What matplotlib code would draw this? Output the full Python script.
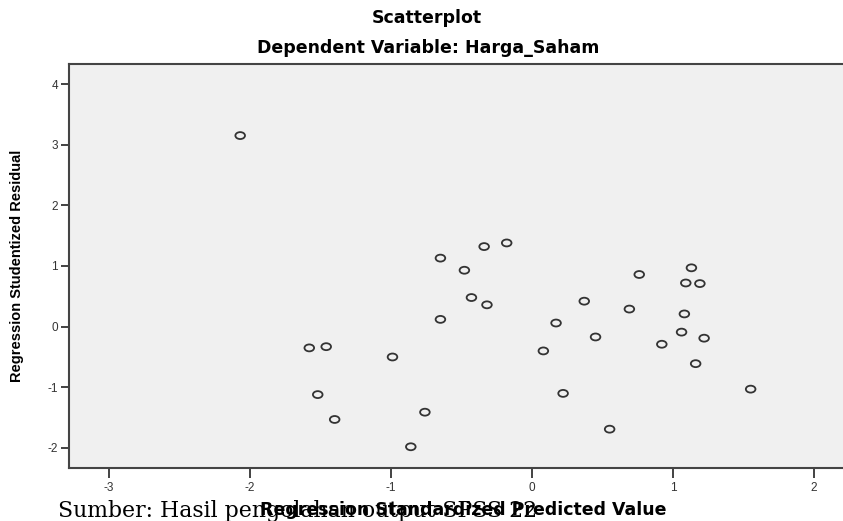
import matplotlib.pyplot as plt
import numpy as np
from matplotlib.path import Path
from matplotlib.markers import MarkerStyle

pred = [-2.07, -0.34, -0.65, -0.48, -0.43, -0.32, -0.65, -1.58, -1.46, -0.99,
        -1.52, -1.40, -0.76, -0.86, -0.18, 0.76, 1.13, 1.09, 1.19, 0.37,
        0.69, 1.08, 0.17, 0.45, 1.06, 1.22, 0.92, 0.08, 1.16, 0.22,
        1.55, 0.55]
resid = [3.15, 1.32, 1.13, 0.93, 0.48, 0.36, 0.12, -0.35, -0.33, -0.50,
         -1.12, -1.53, -1.41, -1.98, 1.38, 0.86, 0.97, 0.72, 0.71, 0.42,
         0.29, 0.21, 0.06, -0.17, -0.09, -0.19, -0.29, -0.40, -0.61, -1.10,
         -1.03, -1.69]
xticks = [-3, -2, -1, 0, 1, 2]
yticks = [-2, -1, 0, 1, 2, 3, 4]

plt.rcParams['font.family'] = ['Liberation Sans', 'DejaVu Sans']
plt.rcParams['axes.unicode_minus'] = False

W, H = 843, 521
fig = plt.figure(figsize=(W / 100, H / 100), dpi=100)
ax = fig.add_axes([69 / W, (H - 468) / H, (855 - 69) / W, (468 - 64) / H])
ax.set_facecolor('#f0f0f0')

# slightly flattened circle marker like the stretched SPSS output
circ = Path.unit_circle()
ell = Path(circ.vertices * np.array([1.0, 0.72]), circ.codes)
ax.scatter(pred, resid, marker=MarkerStyle(ell), s=48, facecolors='none',
           edgecolors='#333333', linewidths=1.3, zorder=3)

ax.set_xlim(-3.284, 2.29)
ax.set_ylim(-2.33, 4.33)
ax.set_xticks(xticks)
ax.set_yticks(yticks)
ax.tick_params(direction='out', length=6, width=1.2, color='#222222',
               labelsize=8.5, labelcolor='#333333', pad=2)
ax.tick_params(axis='x', length=7, pad=3)
for s in ['left', 'bottom', 'top']:
    ax.spines[s].set_color('#444444')
    ax.spines[s].set_linewidth(1.5)
ax.spines['right'].set_visible(False)

ax.set_ylabel('Regression Studentized Residual', fontsize=10.5,
              fontweight='bold')
ax.yaxis.set_label_coords((24 - 69) / (855 - 69), 0.5)

fig.text(463 / W, 1 - 510 / H, 'Regression Standardized Predicted Value',
         ha='center', va='center', fontsize=12.5, fontweight='bold',
         family='DejaVu Sans')

fig.text(427 / W, 1 - 18 / H, 'Scatterplot', ha='center', va='center',
         fontsize=12.5, fontweight='bold', family='DejaVu Sans')
fig.text(428 / W, 1 - 48 / H, 'Dependent Variable: Harga_Saham',
         ha='center', va='center', fontsize=12.5, fontweight='bold',
         family='DejaVu Sans')

fig.text(58 / W, 1 - 517 / H, 'Sumber: Hasil pengolahan output SPSS 22',
         ha='left', va='baseline', fontsize=15.8, family='DejaVu Serif')

fig.savefig('out.png', dpi=100)
